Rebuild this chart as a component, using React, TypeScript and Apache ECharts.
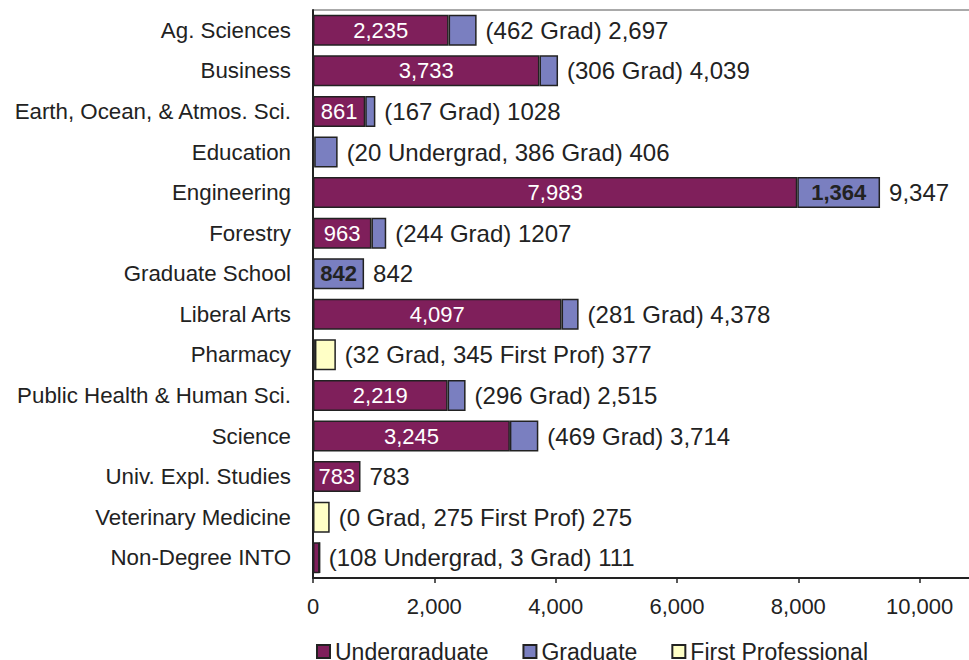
import React, { useEffect, useRef } from "react";
import * as echarts from "echarts";

const categories = [
  "Ag. Sciences",
  "Business",
  "Earth, Ocean, & Atmos. Sci.",
  "Education",
  "Engineering",
  "Forestry",
  "Graduate School",
  "Liberal Arts",
  "Pharmacy",
  "Public Health & Human Sci.",
  "Science",
  "Univ. Expl. Studies",
  "Veterinary Medicine",
  "Non-Degree INTO",
];

const undergraduate = [2235, 3733, 861, 20, 7983, 963, 0, 4097, 0, 2219, 3245, 783, 0, 108];
const graduate = [462, 306, 167, 386, 1364, 244, 842, 281, 32, 296, 469, 0, 0, 3];
const firstProfessional = [0, 0, 0, 0, 0, 0, 0, 0, 345, 0, 0, 0, 275, 0];

const totalLabels = [
  "(462 Grad) 2,697",
  "(306 Grad) 4,039",
  "(167 Grad) 1028",
  "(20 Undergrad, 386 Grad) 406",
  "9,347",
  "(244 Grad) 1207",
  "842",
  "(281 Grad) 4,378",
  "(32 Grad, 345 First Prof) 377",
  "(296 Grad) 2,515",
  "(469 Grad) 3,714",
  "783",
  "(0 Grad, 275 First Prof) 275",
  "(108 Undergrad, 3 Grad) 111",
];

const xTicks = { min: 0, max: 12000, interval: 2000 };

const FONT = "'Liberation Sans', Arial, sans-serif";
const INK = "#222222";

export default function App() {
  const ref = useRef<HTMLDivElement>(null);

  useEffect(() => {
    if (!ref.current) return;
    const chart = echarts.init(ref.current, undefined, { renderer: "svg" });
    const fmt = (v: number) => v.toLocaleString("en-US");
    const toData = (arr: number[]) => arr.map((v) => (v === 0 ? "-" : v));
    const totals = categories.map((c, i) => [
      undergraduate[i] + graduate[i] + firstProfessional[i],
      c,
    ]);
    const barCommon = {
      type: "bar",
      stack: "total",
      barWidth: 31,
      itemStyle: { borderColor: INK, borderWidth: 1.5 },
    };
    chart.setOption({
      animation: false,
      textStyle: { fontFamily: FONT },
      grid: {
        left: 313,
        top: 10,
        bottom: 82,
        right: 0,
        outerBoundsMode: "none",
        containLabel: false,
        show: true,
        borderColor: "#555",
        borderWidth: 1,
      },
      legend: {
        data: ["Undergraduate", "Graduate", "First Professional"],
        left: 311,
        top: 635,
        icon: "rect",
        itemWidth: 13,
        itemHeight: 13,
        itemGap: 34,
        textStyle: { fontSize: 23, color: INK, fontFamily: FONT },
      },
      xAxis: {
        type: "value",
        min: xTicks.min,
        max: xTicks.max,
        interval: xTicks.interval,
        splitLine: { show: false },
        axisLine: { show: true, lineStyle: { color: INK, width: 2 } },
        axisTick: { show: true, length: 5, lineStyle: { color: INK, width: 1.5 } },
        axisLabel: {
          fontSize: 22,
          color: INK,
          fontFamily: FONT,
          margin: 17,
          showMaxLabel: false,
          formatter: (v: number) => fmt(v),
        },
      },
      yAxis: {
        type: "category",
        data: categories,
        inverse: true,
        axisLine: { show: true, lineStyle: { color: INK, width: 2 } },
        axisTick: { show: false },
        axisLabel: { fontSize: 22.3, color: INK, fontFamily: FONT, margin: 22 },
      },
      series: [
        {
          ...barCommon,
          name: "Undergraduate",
          data: toData(undergraduate),
          itemStyle: { ...barCommon.itemStyle, color: "#7F1F5B" },
          label: {
            show: true,
            position: "inside",
            color: "#ffffff",
            fontSize: 22,
            fontFamily: FONT,
            formatter: (p: any) => (typeof p.value === "number" && p.value >= 500 ? fmt(p.value) : ""),
          },
        },
        {
          ...barCommon,
          name: "Graduate",
          data: toData(graduate),
          itemStyle: { ...barCommon.itemStyle, color: "#7A7FC0" },
          label: {
            show: true,
            position: "inside",
            color: INK,
            fontSize: 22,
            fontWeight: "bold",
            fontFamily: FONT,
            formatter: (p: any) => (typeof p.value === "number" && p.value >= 800 ? fmt(p.value) : ""),
          },
        },
        {
          ...barCommon,
          name: "First Professional",
          data: toData(firstProfessional),
          itemStyle: { ...barCommon.itemStyle, color: "#FFFFC6" },
        },
        {
          type: "scatter",
          name: "Total",
          data: totals,
          symbolSize: 0,
          silent: true,
          itemStyle: { opacity: 1 },
          label: {
            show: true,
            position: "right",
            distance: 9,
            color: INK,
            fontSize: 24,
            fontFamily: FONT,
            formatter: (p: any) => totalLabels[p.dataIndex],
          },
        },
      ],
    });
    return () => chart.dispose();
  }, []);

  return (
    <div
      style={{
        position: "absolute",
        left: 0,
        top: 0,
        width: 969,
        height: 660,
        overflow: "hidden",
        background: "#fff",
      }}
    >
      <div ref={ref} style={{ width: 1041, height: 660 }} />
    </div>
  );
}
